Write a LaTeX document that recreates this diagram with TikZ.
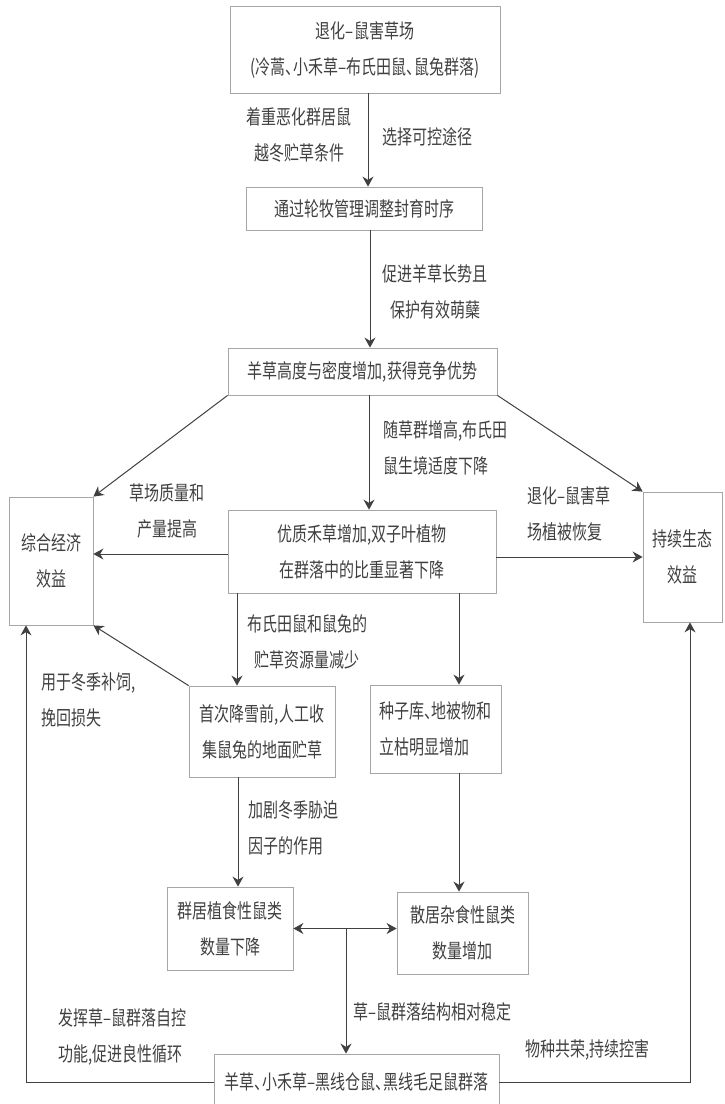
\documentclass[tikz,border=0pt]{standalone}
\usepackage{fontspec}
\setmainfont{Noto Sans CJK SC}[FakeStretch = 0.75, RawFeature = {+halt}]
\usetikzlibrary{arrows.meta}

\begin{document}
\begin{tikzpicture}[x = 0.5pt, y = -0.5pt,
    every node/.style = {inner sep = 0pt, align = center, text = black!75,
        font = \fontsize{10}{18}\selectfont},
    box/.style = {draw = black!35, line width = 0.4pt},
    >= {Stealth[length = 5pt, width = 5.5pt]},
    arr/.style = {->, draw = black!75, line width = 0.5pt}]
    \useasboundingbox (0,0) rectangle (724,1104);
    % boxes
    \node [box, minimum width = 135pt, minimum height = 43.5pt] (degraded) at (365,49.5)
        {退化–鼠害草场\\(冷蒿、小禾草–布氏田鼠、鼠兔群落)};
    \node [box, minimum width = 118pt, minimum height = 21.5pt] (manage) at (364,208.5)
        {通过轮牧管理调整封育时序};
    \node [box, minimum width = 134.5pt, minimum height = 23.5pt] (grow) at (362.5,371.5)
        {羊草高度与密度增加,获得竞争优势};
    \node [box, minimum width = 134pt, minimum height = 41.5pt] (quality) at (362,551.5)
        {优质禾草增加,双子叶植物\\在群落中的比重显著下降};
    \node [box, minimum width = 42pt, minimum height = 64pt] (economic) at (51,561)
        {综合经济\\效益};
    \node [box, minimum width = 39.5pt, minimum height = 65pt] (ecology) at (682.5,557)
        {持续生态\\效益};
    \node [box, minimum width = 73pt, minimum height = 45.5pt] (snow) at (262,731.5)
        {首次降雪前,人工收\\集鼠兔的地面贮草};
    \node [box, align = left, minimum width = 65.5pt, minimum height = 44pt] (seed) at (435.5,729)
        {种子库、地被物和\\立枯明显增加};
    \node [box, minimum width = 63pt, minimum height = 41.5pt] (herd) at (230,928.5)
        {群居植食性鼠类\\数量下降};
    \node [box, minimum width = 65.5pt, minimum height = 41pt] (scatter) at (462.5,933)
        {散居杂食性鼠类\\数量增加};
    \node [box, minimum width = 142.5pt, minimum height = 28pt] (community) at (356.5,1082)
        {羊草、小禾草–黑线仓鼠、黑线毛足鼠群落};
    % labels
    \node (l1) at (299,135) {着重恶化群居鼠\\越冬贮草条件};
    \node [anchor = west] (l2) at (382,137) {选择可控途径};
    \node (l3) at (435,292) {促进羊草长势且\\保护有效萌蘖};
    \node (l4) at (167,511) {草场质量和\\产量提高};
    \node [anchor = west, align = left] (l5) at (383,448) {随草群增高,布氏田\\鼠生境适度下降};
    \node [anchor = west, align = left] (l6) at (527,514) {退化–鼠害草\\场植被恢复};
    \node (l7) at (307,642) {布氏田鼠和鼠兔的\\贮草资源量减少};
    \node [anchor = west, align = left] (l8) at (41,700) {用于冬季补饲,\\挽回损失};
    \node [anchor = west, align = left] (l9) at (248,828) {加剧冬季胁迫\\因子的作用};
    \node [anchor = west] (l10) at (353,1012) {草–鼠群落结构相对稳定};
    \node [anchor = west, align = left] (l11) at (58,1037) {发挥草–鼠群落自控\\功能,促进良性循环};
    \node [anchor = west] (l12) at (525,1050) {物种共荣,持续控害};
    % connectors
    \draw [arr] ([xshift = 1.5pt]degraded.south) -- ([xshift = 1.5pt]degraded.south |- manage.north);
    \draw [arr] ([xshift = 3pt]manage.south) -- ([xshift = 3pt]manage.south |- grow.north);
    \draw [arr] ([xshift = 3.25pt]grow.south) -- ([xshift = 3.25pt]grow.south |- quality.north);
    \draw [arr] (grow.south west) -- (economic.north east);
    \draw [arr] (grow.south east) -- (ecology.north west);
    \draw [arr] ([yshift = -1.25pt]quality.west) -- ([yshift = -1.25pt]quality.west -| economic.east);
    \draw [arr] ([yshift = -2.75pt]quality.east) -- ([yshift = -2.75pt]quality.east -| ecology.west);
    \draw [arr] ([xshift = -12.5pt]snow.north |- quality.south) -- ([xshift = -12.5pt]snow.north);
    \draw [arr] ([xshift = 11.75pt]seed.north |- quality.south) -- ([xshift = 11.75pt]seed.north);
    \draw [arr] (snow.north west) -- (economic.south east);
    \draw [arr] ([xshift = 4pt]herd.north |- snow.south) -- ([xshift = 4pt]herd.north);
    \draw [arr] ([xshift = -1.75pt]scatter.north |- seed.south) -- ([xshift = -1.75pt]scatter.north);
    \draw [arr, <->] (herd.east) -- (herd.east -| scatter.west);
    \coordinate (split) at (346,929);
    \draw [arr] (split) -- (split |- community.north);
    \draw [arr] (community.west) -| ([xshift = -12.5pt]economic.south);
    \draw [arr] (community.east) -| ([xshift = 3.75pt]ecology.south);
\end{tikzpicture}
\end{document}
